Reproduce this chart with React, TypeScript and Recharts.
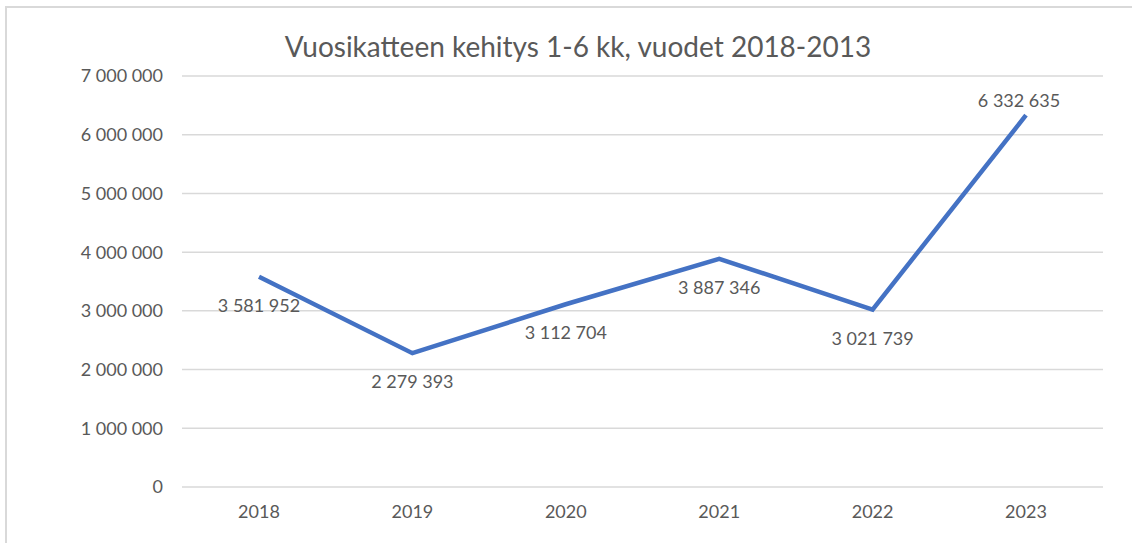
import { LineChart, Line, XAxis, YAxis, CartesianGrid, LabelList } from 'recharts';

const years = ['2018', '2019', '2020', '2021', '2022', '2023'];
const vuosikate = [3581952, 2279393, 3112704, 3887346, 3021739, 6332635];
const yTicks = [0, 1000000, 2000000, 3000000, 4000000, 5000000, 6000000, 7000000];

const data = years.map((year, i) => ({ year, value: vuosikate[i] }));

const FONT = 'Lato, "Open Sans", sans-serif';
const TEXT = '#595959';

// thousands separated by a space, as in the original
const fmt = (v: number) => String(v).replace(/\B(?=(\d{3})+(?!\d))/g, ' ');

function PointLabel(props: any) {
  const { x, y, value, index } = props;
  // last point has its label above, the rest below
  const above = index === vuosikate.length - 1;
  return (
    <text
      x={above ? x - 7 : x}
      y={above ? y - 15 : y + 28}
      textAnchor="middle"
      dominantBaseline="central"
      fill={TEXT}
      fontSize={18}
      fontFamily={FONT}
    >
      {fmt(value)}
    </text>
  );
}

export default function App() {
  return (
    <div style={{ position: 'absolute', left: 0, top: 0, width: 1132, height: 543, overflow: 'hidden', background: '#fff' }}>
      <div
        style={{
          position: 'absolute',
          left: 5,
          top: 6,
          width: 1300,
          height: 700,
          borderTop: '2px solid #D9D9D9',
          borderLeft: '2px solid #D9D9D9',
        }}
      />
      <div
        style={{
          position: 'absolute',
          left: 0,
          width: 1156,
          top: 28,
          textAlign: 'center',
          fontFamily: FONT,
          fontSize: 28,
          color: TEXT,
          lineHeight: '36px',
        }}
      >
        Vuosikatteen kehitys 1-6 kk, vuodet 2018-2013
      </div>
      <div style={{ position: 'absolute', left: 0, top: 0 }}>
        <LineChart width={1132} height={543} data={data} margin={{ top: 76, right: 29, bottom: 26, left: 82 }}>
          <CartesianGrid vertical={false} stroke="#D9D9D9" strokeWidth={1.5} />
          <XAxis
            dataKey="year"
            axisLine={false}
            tickLine={false}
            tickSize={0}
            tickMargin={18}
            height={30}
            padding={{ left: 77, right: 77 }}
            tick={{ fill: TEXT, fontSize: 18, fontFamily: FONT }}
          />
          <YAxis
            domain={[0, 7000000]}
            ticks={yTicks}
            interval={0}
            axisLine={false}
            tickLine={false}
            tickSize={0}
            tickMargin={19}
            width={100}
            tickFormatter={fmt}
            tick={{ fill: TEXT, fontSize: 18, fontFamily: FONT }}
          />
          <Line
            type="linear"
            dataKey="value"
            stroke="#4472C4"
            strokeWidth={4.5}
            dot={false}
            activeDot={false}
            isAnimationActive={false}
          >
            <LabelList dataKey="value" content={PointLabel} />
          </Line>
        </LineChart>
      </div>
    </div>
  );
}
